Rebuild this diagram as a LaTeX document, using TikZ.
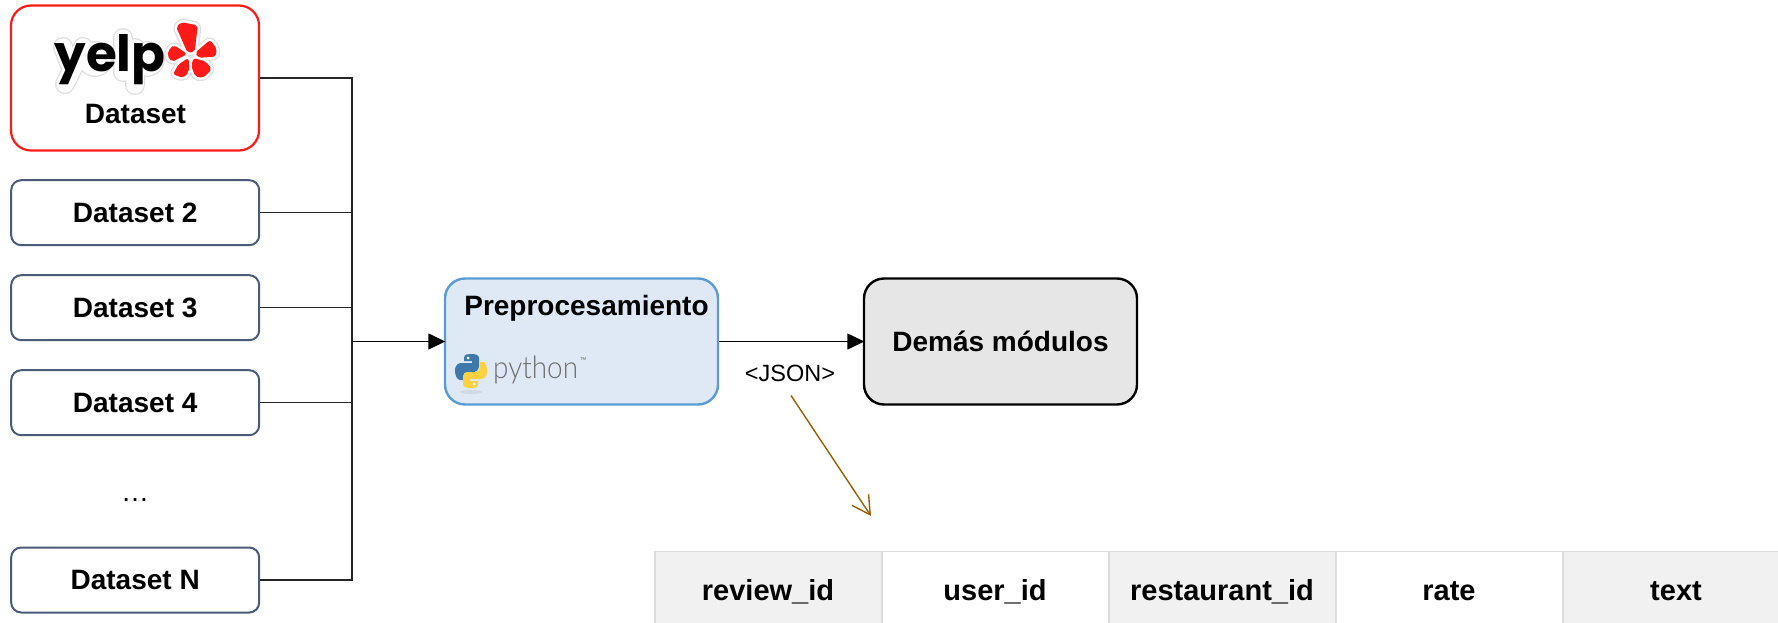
\documentclass[tikz,border=0pt]{standalone}
\usepackage{fontspec}
\setmainfont{Liberation Sans}
\newfontfamily\yelpfont{Poppins}
\newfontfamily\pyfont{Lato Light}
\usetikzlibrary{arrows.meta}
\definecolor{dsblue}{HTML}{4A5C7A}
\definecolor{yelpred}{HTML}{FF1A1A}
\definecolor{petal}{HTML}{FF1A1A}
\definecolor{prepedge}{HTML}{5B9BD5}
\definecolor{prepfill}{HTML}{DEE9F5}
\definecolor{othfill}{HTML}{E6E6E6}
\definecolor{celledge}{HTML}{DCDCDC}
\definecolor{cellgray}{HTML}{F1F1F1}
\definecolor{brownarr}{HTML}{996000}
\definecolor{halo}{HTML}{DDDDDD}
\definecolor{pyblue}{HTML}{3E79AC}
\definecolor{pyyellow}{HTML}{FFD040}
\definecolor{pygray}{HTML}{6E6E6E}
\definecolor{pyshadow}{HTML}{D0DAE4}
\tikzset{
 x=1pt,y=-1pt,
 bigfont/.style={font=\bfseries\fontsize{28}{32}\selectfont},
 dsbox/.style={draw=dsblue,line width=2pt,rounded corners=10pt,fill=white,minimum width=248pt,minimum height=65pt,bigfont,inner sep=0pt},
 yelpbox/.style={draw=yelpred,line width=2.2pt,rounded corners=20pt,fill=white,minimum width=248pt,minimum height=145pt,inner sep=0pt},
 prep/.style={draw=prepedge,line width=2.4pt,fill=prepfill,rounded corners=20pt,minimum width=273pt,minimum height=126pt,inner sep=0pt},
 other/.style={draw=black,line width=2.4pt,fill=othfill,rounded corners=20pt,minimum width=273pt,minimum height=126pt,inner sep=0pt,bigfont},
 conn/.style={draw=black!85,line width=1.3pt},
 arr/.style={draw=black,line width=1.4pt,shorten >=-1.5pt,-{Triangle[length=17pt,width=16pt]}},
 cell/.style={draw=celledge,line width=1.5pt,minimum width=227pt,minimum height=80pt,inner sep=0pt,anchor=north west},
 celltxt/.style={font=\bfseries\fontsize{29}{32}\selectfont,inner sep=0pt,anchor=base},
 yelpstroke/.style={line cap=round,line join=round},
}
\begin{document}
\begin{tikzpicture}
\useasboundingbox (0,0) rectangle (1778,623);
% boxes
\node[yelpbox] (yelp) at (135,78) {};
\node[dsbox] (d2) at (135.2,212.7) {Dataset 2};
\node[dsbox] (d3) at (135.2,307.7) {Dataset 3};
\node[dsbox] (d4) at (135.2,402.7) {Dataset 4};
\node[dsbox] (dn) at (135.2,580) {Dataset N};
\node[font=\fontsize{28}{28}\selectfont,inner sep=0pt] (dots) at (135,500) {…};
\node[bigfont,inner sep=0pt,anchor=base] (dsname) at (135.5,123.5) {Dataset};
% yelp logo halo
\begin{scope}[yelpstroke]
 \foreach \cc/\ww in {halo/20,white/17.5}{
  \draw[\cc,line width=\ww pt] (63,47) -- (72,70) (83,47) -- (72,70) -- (65,84)
   (95,59) circle (8) (123,38) -- (123,72) (135,48) -- (135,85) (147,59) circle (8);
 }
\end{scope}
\node[font=\yelpfont\bfseries\fontsize{50}{50}\selectfont,inner sep=0pt,anchor=base] (yelpword) at (110,72) {yelp};
% yelp burst
\begin{scope}[shift={(190,52)}]
 \foreach \cc/\ww/\rr in {halo/9/2,white/6.5/2,petal/1.5/2}{
  \path[fill=\cc,draw=\cc,line width=\ww pt,line join=round,rounded corners=\rr pt]
   (-2,0) -- (-13,-25) -- (-8,-29) -- (7,-26) -- (4,-1) -- cycle
   (6,1) -- (20,-11) -- (26,-3) -- (25,4) -- (9,5) -- cycle
   (4,7) -- (15,10) -- (21,17) -- (13,25) -- (6,24) -- (2,14) -- cycle
   (-2,7) -- (-2,20) -- (-7,25) -- (-16,22) -- (-11,13) -- cycle
   (-4,2) -- (-18,9) -- (-22,3) -- (-19,-4) -- (-16,-6) -- cycle;
 }
\end{scope}
% process boxes
\node[prep] (pre) at (581.5,341.5) {};
\node[other] (dem) at (1000.5,341.5) {Demás módulos};
\node[bigfont,inner sep=0pt,anchor=base] (pretxt) at (586.5,315) {Preprocesamiento};
% python logo
\fill[pyshadow] (471,392) ellipse (11 and 2);
\begin{scope}[shift={(471,371)}]
 \fill[pyblue] (-16,0) .. controls (-16,-7) and (-12,-8) .. (-9,-8) -- (1,-8) -- (1,-10) -- (-7,-10) -- (-7,-13) .. controls (-7,-17) and (-3,-17) .. (0,-17) .. controls (5,-17) and (8,-16) .. (8,-13) -- (8,-4) .. controls (8,-1) and (5,1) .. (3,1) -- (-4,1) .. controls (-6,1) and (-8,3) .. (-8,6) -- (-8,9) -- (-11,9) .. controls (-14,9) and (-16,4) .. (-16,0) -- cycle;
 \fill[pyyellow] (16,0) .. controls (16,7) and (12,8) .. (9,8) -- (-1,8) -- (-1,10) -- (7,10) -- (7,13) .. controls (7,17) and (3,17) .. (0,17) .. controls (-5,17) and (-8,16) .. (-8,13) -- (-8,5) .. controls (-8,2) and (-5,1) .. (-3,1) -- (4,1) .. controls (7,1) and (9,-1) .. (9,-5) -- (9,-9) -- (12,-9) .. controls (15,-9) and (16,-4) .. (16,0) -- cycle;
 \fill[white] (-3,-13) circle (1.5) (3,13) circle (1.5);
\end{scope}
\node[font=\pyfont\fontsize{31}{31}\selectfont,text=pygray,inner sep=0pt,anchor=base west,xscale=.9] (pytxt) at (493,378) {python};
\node[font=\fontsize{7}{7}\selectfont,text=pygray,inner sep=0pt] (tm) at (583,360) {™};
% connectors
\coordinate (bus) at (352,341.5);
\draw[conn] (yelp.east) -| (bus);
\draw[conn] (d2.east) -| (bus);
\draw[conn] (d3.east) -| (bus);
\draw[conn] (d4.east) -| (bus);
\draw[conn] (dn.east) -| (bus);
\draw[arr] (bus) -- (pre.west);
\draw[arr] (pre.east) -- (dem.west);
\node[font=\fontsize{23.5}{26}\selectfont,inner sep=0pt,anchor=base] (json) at (790,381) {<JSON>};
\coordinate (aend) at (871,516);
\coordinate (astart) at (791,395.5);
\draw[brownarr,line width=1.4pt,-{Straight Barb[length=18pt,width=20pt]}] (astart) -- (aend);
% table
\node[cell,fill=cellgray] (c1) at (654,550.5) {};
\node[cell,fill=white] (c2) at (881,550.5) {};
\node[cell,fill=cellgray] (c3) at (1108,550.5) {};
\node[cell,fill=white] (c4) at (1335,550.5) {};
\node[cell,fill=cellgray] (c5) at (1562,550.5) {};
\node[celltxt] (t1) at (768,600) {review\_id};
\node[celltxt] (t2) at (995,600) {user\_id};
\node[celltxt] (t3) at (1222,600) {restaurant\_id};
\node[celltxt] (t4) at (1449,600) {rate};
\node[celltxt] (t5) at (1676,600) {text};
\end{tikzpicture}
\end{document}
